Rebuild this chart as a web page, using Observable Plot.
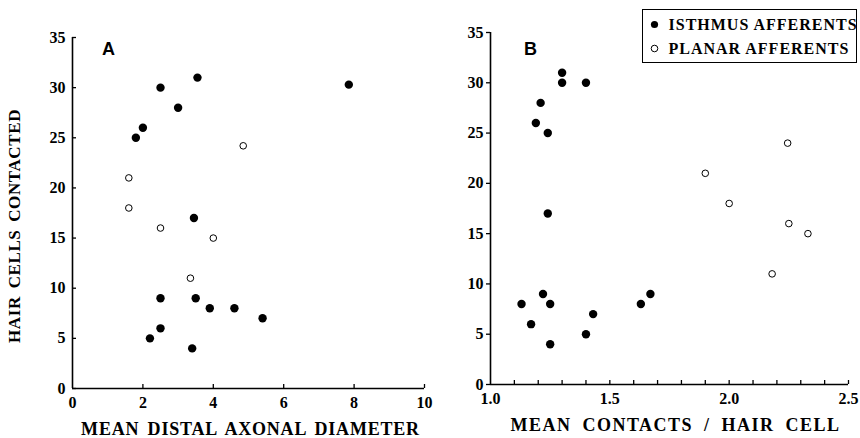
<!DOCTYPE html>
<html><head><meta charset="utf-8">
<script src="https://cdn.jsdelivr.net/npm/d3@7"></script>
<script src="https://cdn.jsdelivr.net/npm/@observablehq/plot@0.6"></script>
<style>
body{margin:0;background:#fff;}
#wrap{position:relative;width:860px;height:438px;background:#fff;font-family:"Liberation Serif","DejaVu Serif",serif;color:#000;}
#a,#b{position:absolute;top:0;}
#a{left:0}#b{left:430px}
</style></head><body>
<div id="wrap"><div id="a"></div><div id="b"></div></div>
<script>
// ---- data ----
const seriesNames = ["ISTHMUS AFFERENTS", "PLANAR AFFERENTS"];
const yTicks = [0, 5, 10, 15, 20, 25, 30, 35];
const xTicksA = [0, 2, 4, 6, 8, 10];
const xTickMarksA = [2, 4, 6, 8, 10];
const xTicksB = [1.0, 1.5, 2.0, 2.5];
const xTickMarksB = [1.1, 1.2, 1.3, 1.4, 1.5, 1.6, 1.7, 1.8, 1.9, 2.0, 2.1, 2.2, 2.3, 2.4, 2.5];
const panelLabels = ["A", "B"];
const yTitle = "HAIR CELLS CONTACTED";
const xTitleA = "MEAN DISTAL AXONAL DIAMETER";
const xTitleB = "MEAN CONTACTS / HAIR CELL";

// Panel A: mean distal axonal diameter vs hair cells contacted
const isthmusDiamA  = [2.5, 3.55, 3.0, 2.0, 1.8, 7.85, 3.45, 2.5, 3.5, 3.9, 4.6, 5.4, 2.5, 2.2, 3.4];
const isthmusCellsA = [30, 31, 28, 26, 25, 30.3, 17, 9, 9, 8, 8, 7, 6, 5, 4];
const planarDiamA   = [4.85, 1.6, 1.6, 2.5, 4.0, 3.35];
const planarCellsA  = [24.2, 21, 18, 16, 15, 11];

// Panel B: mean contacts / hair cell vs hair cells contacted
const isthmusContB  = [1.3, 1.3, 1.4, 1.21, 1.19, 1.24, 1.24, 1.13, 1.17, 1.22, 1.25, 1.25, 1.4, 1.43, 1.63, 1.67];
const isthmusCellsB = [31, 30, 30, 28, 26, 25, 17, 8, 6, 9, 8, 4, 5, 7, 8, 9];
const planarContB   = [2.245, 1.9, 2.0, 2.25, 2.33, 2.18];
const planarCellsB  = [24, 21, 18, 16, 15, 11];

// ---- build ----
const serif = "Liberation Serif, DejaVu Serif, serif";
const sans = "Liberation Sans, Arial, sans-serif";
const toRows = (xs, ys) => xs.map((x, i) => ({x, y: ys[i]}));

function panel(o) {
  const xMin = o.xDomain[0], xMax = o.xDomain[1];
  const marks = [
    Plot.axisX(o.xTicks, {tickSize: 0, tickPadding: 8, tickFormat: o.xFormat, label: null, fontSize: 16, fontWeight: "bold"}),
    Plot.axisY(o.ticksY, {tickSize: 0, tickPadding: 7, label: null, fontSize: 16, fontWeight: "bold"}),
    // inward x ticks
    Plot.ruleX(o.xTickMarks, {x: d => d, y1: () => 0, y2: () => 0, insetBottom: 4, stroke: "#000", strokeWidth: 1.3}),
    // y ticks
    Plot.ruleY(o.ticksY, {y: d => d, x1: () => xMin, x2: () => xMin,
      insetLeft: o.yInward ? 0 : -4, insetRight: o.yInward ? -4 : 0, stroke: "#000", strokeWidth: 1.3}),
    // axis lines
    Plot.ruleY([0], {x1: xMin, x2: xMax, stroke: "#000", strokeWidth: 1.6}),
    Plot.ruleX([xMin], {y1: 0, y2: 35, stroke: "#000", strokeWidth: 1.6}),
    // points
    Plot.dot(o.filled, {x: "x", y: "y", r: 4.2, fill: "#000"}),
    Plot.dot(o.open, {x: "x", y: "y", r: 3.3, fill: "#fff", stroke: "#000", strokeWidth: 1}),
    // panel letter and titles
    Plot.text([o.letter], {frameAnchor: "top-left", dx: o.ldx, dy: o.ldy, fontFamily: sans, fontSize: 18, fontWeight: "bold", textAnchor: "middle", lineAnchor: "middle"}),
    Plot.text([o.xTitle], {frameAnchor: "bottom", dx: o.tdx, dy: 41, textAnchor: "middle", lineAnchor: "middle", fontSize: 18, fontWeight: "bold", fontFamily: serif})
  ];
  if (o.showYTitle) marks.push(Plot.text([yTitle], {frameAnchor: "left", dx: -58, dy: 13, rotate: -90, textAnchor: "middle", lineAnchor: "middle", fontSize: 17, fontWeight: "bold", fontFamily: serif}));
  if (o.legend) {
    o.legend.forEach((name, i) => {
      const dy = -8 + i * 24;
      marks.push(Plot.dot([name], {frameAnchor: "top-left", dx: 164, dy, r: i === 0 ? 3.6 : 3.3,
        fill: i === 0 ? "#000" : "#fff", stroke: i === 0 ? "none" : "#000", strokeWidth: 1}));
      marks.push(Plot.text([name], {frameAnchor: "top-left", dx: 178, dy, textAnchor: "start", lineAnchor: "middle",
        fontSize: 16, fontWeight: "bold", fontFamily: serif}));
    });
  }
  const svg = Plot.plot({
    width: 430, height: 438,
    marginLeft: o.ml, marginRight: o.mr, marginTop: o.mt, marginBottom: o.mb,
    style: {fontFamily: serif, fontSize: "16px", fontWeight: "bold", background: "transparent", color: "#000", overflow: "visible"},
    x: {domain: o.xDomain},
    y: {domain: [0, 35]},
    marks
  });
  svg.querySelectorAll("text").forEach(t => {
    if (t.textContent === o.xTitle) { t.setAttribute("letter-spacing", o.ls); t.setAttribute("word-spacing", o.ws); }
    if (t.textContent === yTitle) { t.setAttribute("letter-spacing", "0.6"); t.setAttribute("word-spacing", "3"); }
    if (o.legend && o.legend.includes(t.textContent)) t.setAttribute("letter-spacing", "1");
  });
  if (o.legend) {
    // legend box
    d3.select(svg).insert("rect", ":first-child")
      .attr("x", 212.5).attr("y", 9.5).attr("width", 214).attr("height", 53)
      .attr("fill", "#fff").attr("stroke", "#000").attr("stroke-width", 1);
  }
  document.getElementById(o.host).appendChild(svg);
}

panel({
  host: "a",
  xDomain: [0, 10], xTicks: xTicksA, xTickMarks: xTickMarksA, xFormat: d3.format("d"),
  ticksY: yTicks, yInward: true,
  filled: toRows(isthmusDiamA, isthmusCellsA), open: toRows(planarDiamA, planarCellsA),
  letter: panelLabels[0], xTitle: xTitleA, showYTitle: true,
  ldx: 36, ldy: 12, tdx: 2, ls: "0.8", ws: "3",
  ml: 72, mr: 6, mt: 37, mb: 50
});
panel({
  host: "b",
  xDomain: [1.0, 2.5], xTicks: xTicksB, xTickMarks: xTickMarksB, xFormat: d3.format(".1f"),
  ticksY: yTicks, yInward: false,
  filled: toRows(isthmusContB, isthmusCellsB), open: toRows(planarContB, planarCellsB),
  letter: panelLabels[1], xTitle: xTitleB, showYTitle: false, legend: seriesNames,
  ldx: 40, ldy: 17, tdx: 6, ls: "1.5", ws: "5",
  ml: 60, mr: 12, mt: 32, mb: 54
});
</script>
</body></html>
